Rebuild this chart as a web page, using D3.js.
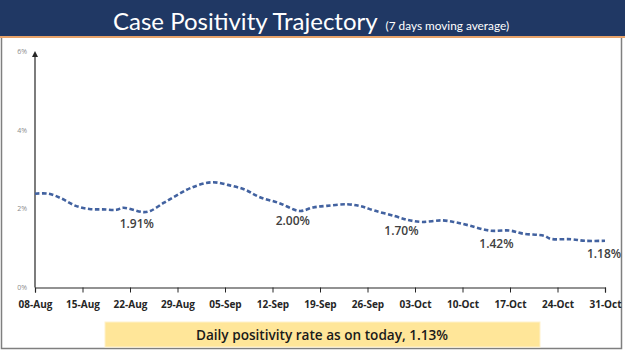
<!DOCTYPE html>
<html>
<head>
<meta charset="utf-8">
<script src="https://cdn.jsdelivr.net/npm/d3@7"></script>
<style>
  body { margin: 0; background: #fff; }
  svg { display: block; }
  .tick-y { font-family: "Open Sans", sans-serif; font-size: 7px; fill: #8c8c8c; }
  .tick-x { font-family: "Open Sans", sans-serif; font-size: 10px; font-weight: 700; fill: #262626; }
  .data-label { font-family: "Open Sans", sans-serif; font-size: 12px; font-weight: 600; fill: #404040; }
</style>
</head>
<body>
<div id="chart"></div>
<script>
// 7 day moving average positivity
const dates = ["2020-08-08", "2020-08-10", "2020-08-12", "2020-08-14", "2020-08-16", "2020-08-18",
  "2020-08-20", "2020-08-21", "2020-08-24", "2020-08-25", "2020-08-27", "2020-08-29", "2020-08-31",
  "2020-09-03", "2020-09-06", "2020-09-08", "2020-09-10", "2020-09-13", "2020-09-16", "2020-09-18",
  "2020-09-20", "2020-09-23", "2020-09-25", "2020-09-27", "2020-09-30", "2020-10-02", "2020-10-04",
  "2020-10-07", "2020-10-09", "2020-10-11", "2020-10-14", "2020-10-17", "2020-10-19", "2020-10-22",
  "2020-10-23", "2020-10-26", "2020-10-28", "2020-10-31"];
const positivity = [2.39, 2.39, 2.26, 2.08, 2.00, 1.99,
  1.98, 2.03, 1.92, 1.95, 2.16, 2.36, 2.54,
  2.68, 2.59, 2.49, 2.31, 2.15, 1.95, 2.04,
  2.08, 2.12, 2.07, 1.96, 1.82, 1.72, 1.67,
  1.71, 1.66, 1.58, 1.45, 1.45, 1.37, 1.32,
  1.24, 1.23, 1.19, 1.19];

const tickLabels = ["08-Aug", "15-Aug", "22-Aug", "29-Aug", "05-Sep", "12-Sep", "19-Sep",
  "26-Sep", "03-Oct", "10-Oct", "17-Oct", "24-Oct", "31-Oct"];
const tickDates = ["2020-08-08", "2020-08-15", "2020-08-22", "2020-08-29", "2020-09-05", "2020-09-12",
  "2020-09-19", "2020-09-26", "2020-10-03", "2020-10-10", "2020-10-17", "2020-10-24", "2020-10-31"];
const yTicks = [0, 2, 4, 6];

const labelDates = ["2020-08-23", "2020-09-15", "2020-10-01", "2020-10-15", "2020-10-31"];
const labelTexts = ["1.91%", "2.00%", "1.70%", "1.42%", "1.18%"];

const parse = d3.timeParse("%Y-%m-%d");
const data = dates.map((d, i) => ({ date: parse(d), value: positivity[i] }));

const width = 625, height = 351;
const svg = d3.select("#chart").append("svg")
  .attr("width", width)
  .attr("height", height);

// header band
svg.append("rect").attr("x", 0).attr("y", 0).attr("width", width).attr("height", 36).attr("fill", "#203864");
svg.append("rect").attr("x", 0).attr("y", 36).attr("width", width).attr("height", 2).attr("fill", "#e8a36a");

// slide frame
svg.append("path")
  .attr("d", "M1.5,38V348.5H621.5V38")
  .attr("fill", "none")
  .attr("stroke", "#7f7f7f")
  .attr("stroke-width", 1.5);

const title = svg.append("text")
  .attr("x", 113)
  .attr("y", 30)
  .attr("fill", "#fff")
  .style("font-family", "Lato, sans-serif");
title.append("tspan").style("font-size", "24px").text("Case Positivity Trajectory");
title.append("tspan").attr("dx", 8).style("font-size", "11.8px").text("(7 days moving average)");

const x = d3.scaleTime()
  .domain([parse(tickDates[0]), parse(tickDates[tickDates.length - 1])])
  .range([35, 605]);

const y = d3.scaleLinear()
  .domain([0, 6])
  .range([287.5, 52]);

// y axis with arrow
svg.append("defs").append("marker")
  .attr("id", "arrow")
  .attr("viewBox", "0 0 10 10")
  .attr("refX", 5).attr("refY", 5)
  .attr("markerWidth", 5).attr("markerHeight", 5)
  .attr("orient", "auto")
  .append("path").attr("d", "M0,0L10,5L0,10z").attr("fill", "#262626");

svg.append("line")
  .attr("x1", x.range()[0]).attr("x2", x.range()[0])
  .attr("y1", y(0)).attr("y2", y(6) + 2)
  .attr("stroke", "#262626")
  .attr("stroke-width", 1.2)
  .attr("marker-end", "url(#arrow)");

svg.selectAll(".tick-y")
  .data(yTicks)
  .enter().append("text")
  .attr("class", "tick-y")
  .attr("x", 27)
  .attr("y", d => y(d))
  .attr("dy", "0.35em")
  .attr("text-anchor", "end")
  .text(d => d + "%");

// x axis
const xAxis = svg.append("g")
  .attr("transform", `translate(0,${y(0)})`)
  .call(d3.axisBottom(x)
    .tickValues(tickDates.map(parse))
    .tickSize(5)
    .tickFormat((d, i) => tickLabels[i]));
xAxis.select(".domain").attr("stroke", "#262626").attr("stroke-width", 1.2);
xAxis.selectAll(".tick line").attr("stroke", "#262626");
xAxis.selectAll(".tick text")
  .attr("class", "tick-x")
  .attr("y", 13)
  .attr("font-family", null).attr("font-size", null).attr("fill", null);

// dashed trend line
const line = d3.line()
  .x(d => x(d.date))
  .y(d => y(d.value))
  .curve(d3.curveCatmullRom.alpha(0.5));

svg.append("path")
  .datum(data)
  .attr("d", line)
  .attr("fill", "none")
  .attr("stroke", "#4262a0")
  .attr("stroke-width", 2.6)
  .attr("stroke-dasharray", "4.5,2.5");

// point labels
const valueAt = d3.scaleTime().domain(data.map(d => d.date)).range(data.map(d => d.value));
svg.selectAll(".data-label")
  .data(labelDates)
  .enter().append("text")
  .attr("class", "data-label")
  .attr("x", d => Math.min(x(parse(d)), 604))
  .attr("y", d => y(valueAt(parse(d))) + 17)
  .attr("text-anchor", "middle")
  .text((d, i) => labelTexts[i]);

// today's rate banner
svg.append("rect")
  .attr("x", 105).attr("y", 322)
  .attr("width", 435).attr("height", 25)
  .attr("fill", "#ffe699")
  .attr("stroke", "#fff2cc");
svg.append("text")
  .attr("x", 322)
  .attr("y", 340)
  .attr("text-anchor", "middle")
  .attr("fill", "#1a1a1a")
  .style("font-family", "'Open Sans', sans-serif")
  .style("font-size", "13.6px")
  .style("font-weight", 600)
  .text("Daily positivity rate as on today, 1.13%");
</script>
</body>
</html>
